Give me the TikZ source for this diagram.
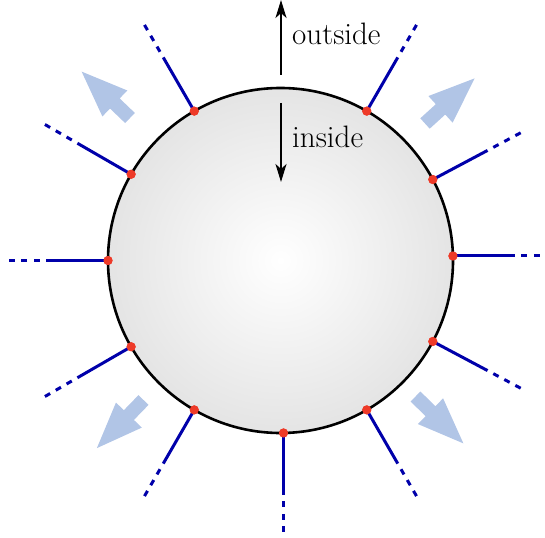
\documentclass[tikz,border=0pt]{standalone}
\usetikzlibrary{arrows.meta}
\definecolor{lineblue}{RGB}{0,0,170}
\definecolor{dotred}{RGB}{238,58,40}
\definecolor{bigarrow}{RGB}{177,197,230}
\pgfdeclareradialshading{ballshade}{\pgfpoint{0bp}{0bp}}{color(0bp)=(white); color(50bp)=(black!21)}
\begin{document}
\begin{tikzpicture}[x=1pt,y=-1pt,
  dotnode/.style={circle,fill=dotred,inner sep=0pt,minimum size=9pt},
  spoke/.style={lineblue,line width=3pt},
  spokedash/.style={lineblue,line width=3pt,dash pattern=on 6pt off 6.5pt,dash phase=6pt},
  bigarr/.style={fill=bigarrow,draw=none},
  axisarrow/.style={line width=2.2pt,-{Stealth[length=18pt,width=11pt,inset=5pt]}},
  lbl/.style={anchor=base west,inner sep=0pt,font=\fontsize{31}{36}\selectfont}]
\useasboundingbox (0,0) rectangle (545,537);
\coordinate (C) at (280.5,260.5);
\shade[shading=ballshade] (C) circle[radius=172.5];
% spokes
\foreach \a/\d [count=\i] in {60/60,28/28,1.5/0,-28/-28,-60/-60,-89/-90,-120/-120,-150/-150,180/180,150/150,120/120} {
  \node[dotnode] (p\i) at ([shift={({-\a}:172.5)}]C) {};
  \coordinate (s\i) at ([shift={({-\d}:62)}]p\i.center);
  \coordinate (e\i) at ([shift={({-\d}:99.5)}]p\i.center);
  \draw[spoke] (p\i.center) -- (s\i);
  \draw[spokedash] (s\i) -- (e\i);
}
\draw[line width=2.6pt] (C) circle[radius=172.5];
\foreach \i in {1,...,11} {
  \fill[dotred] (p\i.center) circle[radius=4.6];
}
% big arrows
\foreach \x/\y/\r in {130/118/136.2, 425/123.5/42.3, 143.5/400/225.9, 415.5/396.5/-44.4} {
  \fill[bigarr,shift={(\x,\y)},rotate=\r] (0,-7) -- (21,-7) -- (21,-18) -- (67,0) -- (21,18) -- (21,7) -- (0,7) -- cycle;
}
% inside / outside
\coordinate (o1) at (281,75);
\coordinate (o2) at (281,0);
\coordinate (i1) at (281,103);
\coordinate (i2) at (281,182);
\draw[axisarrow] (o1) -- (o2);
\draw[axisarrow] (i1) -- (i2);
\node[lbl] (out) at (292,45) {outside};
\node[lbl] (in) at (292,148) {inside};
\end{tikzpicture}
\end{document}
